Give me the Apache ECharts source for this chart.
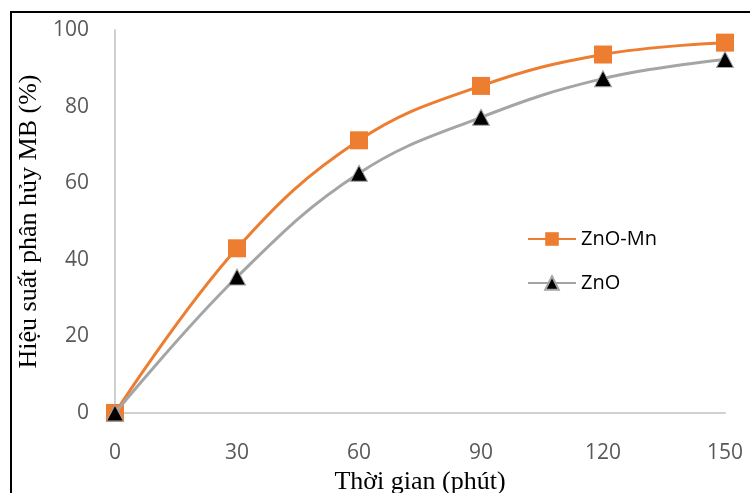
<!DOCTYPE html>
<html>
<head>
<meta charset="utf-8">
<script src="https://cdn.jsdelivr.net/npm/echarts@6/dist/echarts.min.js"></script>
<style>
  html, body { margin: 0; padding: 0; background: #fff; }
  #chart { width: 750px; height: 493px; }
</style>
</head>
<body>
<div id="chart"></div>
<script>
const times = [0, 30, 60, 90, 120, 150];
const znoMn = [0, 43, 71.2, 85.4, 93.6, 96.7];
const zno = [0, 35.5, 62.6, 77.2, 87.3, 92.3];
const yTicks = [0, 20, 40, 60, 80, 100];

const chart = echarts.init(document.getElementById('chart'));

const option = {
  animation: false,
  backgroundColor: '#fff',
  graphic: [{
    type: 'rect',
    shape: { x: 11, y: 12, width: 800, height: 600 },
    style: { fill: 'none', stroke: '#000', lineWidth: 2 },
    silent: true
  }],
  grid: { left: 115, right: 25, top: 30, bottom: 80, outerBoundsMode: 'none', containLabel: false },
  legend: {
    orient: 'vertical',
    left: 527,
    top: 229,
    padding: 0,
    itemGap: 24,
    itemWidth: 48,
    itemHeight: 17,
    textStyle: { fontFamily: 'Open Sans', fontSize: 20, color: '#000' },
    data: ['ZnO-Mn', 'ZnO']
  },
  xAxis: {
    type: 'value',
    min: 0, max: 150, interval: 30,
    name: 'Thời gian (phút)',
    nameLocation: 'middle',
    nameGap: 56,
    nameTextStyle: { fontFamily: 'Liberation Serif', fontSize: 26, color: '#000' },
    axisLine: { show: true, lineStyle: { color: '#d0d0d0', width: 2 } },
    axisTick: { show: false },
    splitLine: { show: false },
    axisLabel: { margin: 30, fontFamily: 'Open Sans', fontSize: 21, color: '#595959' }
  },
  yAxis: {
    type: 'value',
    min: 0, max: 100, interval: 20,
    name: 'Hiệu suất phân hủy MB (%)',
    nameLocation: 'middle',
    nameGap: 70,
    nameTextStyle: { fontFamily: 'Liberation Serif', fontSize: 26, color: '#000' },
    axisLine: { show: true, lineStyle: { color: '#d0d0d0', width: 2 } },
    axisTick: { show: false },
    splitLine: { show: false },
    axisLabel: {
      margin: 26, fontFamily: 'Open Sans', fontSize: 21, color: '#595959',
      formatter: v => yTicks.includes(v) ? String(v) : ''
    }
  },
  series: [
    {
      name: 'ZnO',
      type: 'line',
      smooth: 0.4,
      data: times.map((t, i) => [t, zno[i]]),
      lineStyle: { color: '#a5a5a5', width: 3 },
      itemStyle: { color: '#000', borderColor: '#a5a5a5', borderWidth: 1 },
      symbol: 'triangle',
      symbolSize: [17, 16],
      z: 2
    },
    {
      name: 'ZnO-Mn',
      type: 'line',
      smooth: 0.4,
      data: times.map((t, i) => [t, znoMn[i]]),
      lineStyle: { color: '#ed7d31', width: 3 },
      itemStyle: { color: '#ed7d31' },
      symbol: 'rect',
      symbolSize: 18,
      z: 1
    }
  ]
};

chart.setOption(option);
</script>
</body>
</html>
